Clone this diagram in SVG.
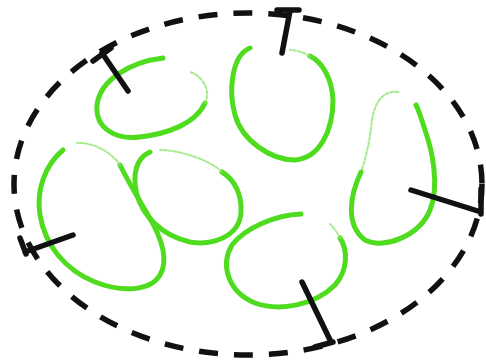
<svg xmlns="http://www.w3.org/2000/svg" width="486" height="364" viewBox="0 0 486 364">
<style>
.bound{fill:none;stroke:#111;stroke-width:5.5;stroke-dasharray:19 16;stroke-linecap:butt}
.loop{fill:none;stroke:#4fdc1e;stroke-width:5;stroke-linecap:round}
.faint{fill:none;stroke:#8ee66e;stroke-width:2;stroke-linecap:round;stroke-dasharray:3 2;opacity:0.8}
.tick{fill:none;stroke:#111;stroke-width:5.5;stroke-linecap:round;stroke-linejoin:round}
</style>
<rect width="486" height="364" fill="#fff"/>
<g id="boundary">
<ellipse class="bound" cx="248" cy="184" rx="234" ry="171"/>
</g>
<g id="loop-a">
<path class="loop" d="M163,58 C130,62 100,80 97,105 C95,128 115,140 140,137 C165,134 195,125 205,103"/>
<path class="faint" d="M205,103 C212,88 200,75 190,72"/>
</g>
<g id="loop-b">
<path class="loop" d="M250,48 C232,55 228,90 235,115 C242,140 270,160 295,160 C320,158 333,130 333,100 C332,78 322,62 310,56"/>
<path class="faint" d="M310,56 C302,52 296,50 290,50"/>
</g>
<g id="loop-c">
<path class="faint" d="M398,92 C385,90 375,100 372,120 C370,140 366,158 361,172"/>
<path class="loop" d="M361,172 C350,195 345,225 365,240 C385,250 420,235 430,210 C440,185 432,150 425,130 C420,115 418,108 416,105"/>
</g>
<g id="loop-d">
<path class="loop" d="M63,150 C45,165 36,190 40,215 C45,245 65,270 95,282 C120,292 150,292 160,275 C170,258 160,235 148,215 C138,198 130,185 120,165"/>
<path class="faint" d="M120,165 C110,150 90,142 77,143"/>
</g>
<g id="loop-e">
<path class="loop" d="M150,152 C136,158 132,175 137,195 C143,215 160,235 190,242 C215,246 240,235 241,212 C242,195 235,180 222,172"/>
<path class="faint" d="M222,172 C210,160 180,150 160,150"/>
</g>
<g id="loop-f">
<path class="loop" d="M301,214 C275,215 245,228 232,245 C220,265 228,292 255,303 C280,312 315,305 335,285 C348,270 348,250 340,238"/>
<path class="faint" d="M340,238 C336,230 332,226 330,224"/>
</g>
<g id="connectors">
<path class="tick" d="M128,91 L102,53 M93,61 L111,48"/>
<path class="tick" d="M282,53 L290,11 M277,10 L299,10"/>
<path class="tick" d="M411,190 L481,212 M481,189 L481,214"/>
<path class="tick" d="M302,282 L331,342 M315,347 L333,342"/>
<path class="tick" d="M73,235 L25,252 M20,238 L26,254"/>
</g>
</svg>
